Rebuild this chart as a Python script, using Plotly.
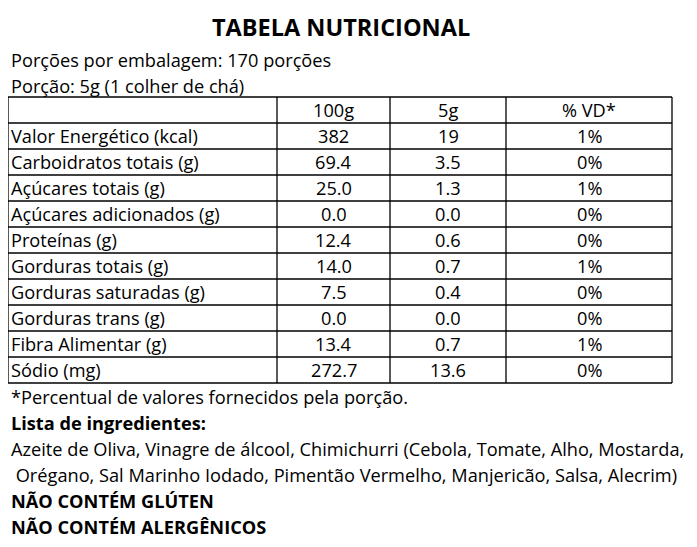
import plotly.graph_objects as go

title = "TABELA NUTRICIONAL"
porcoes = "Porções por embalagem: 170 porções"
porcao = "Porção: 5g (1 colher de chá)"
headers = ["", "100g", "5g", "% VD*"]
nutrients = ["Valor Energético (kcal)", "Carboidratos totais (g)", "Açúcares totais (g)",
             "Açúcares adicionados (g)", "Proteínas (g)", "Gorduras totais (g)",
             "Gorduras saturadas (g)", "Gorduras trans (g)", "Fibra Alimentar (g)", "Sódio (mg)"]
per_100g = ["382", "69.4", "25.0", "0.0", "12.4", "14.0", "7.5", "0.0", "13.4", "272.7"]
per_5g = ["19", "3.5", "1.3", "0.0", "0.6", "0.7", "0.4", "0.0", "0.7", "13.6"]
vd = ["1%", "0%", "1%", "0%", "0%", "1%", "0%", "0%", "1%", "0%"]
footer = [
    ("*Percentual de valores fornecidos pela porção.", False),
    ("Lista de ingredientes:", True),
    ("Azeite de Oliva, Vinagre de álcool, Chimichurri (Cebola, Tomate, Alho, Mostarda,", False),
    (" Orégano, Sal Marinho Iodado, Pimentão Vermelho, Manjericão, Salsa, Alecrim)", False),
    ("NÃO CONTÉM GLÚTEN", True),
    ("NÃO CONTÉM ALERGÊNICOS", True),
]

W, H = 697, 547
OFF = 8  # page body margin
FONT = "Open Sans"
FS = 18.2
col_x = [8, 277, 390, 506, 672]
top, rh = 97, 26
rows = [headers] + [list(r) for r in zip(nutrients, per_100g, per_5g, vd)]

fig = go.Figure()
ann = []
shapes = []

def txt(x, y, s, bold=False, anchor="left", size=FS):
    ann.append(dict(x=x, y=y, xref="x", yref="y", text=f"<b>{s}</b>" if bold else s,
                    showarrow=False, xanchor=anchor, yanchor="middle",
                    font=dict(family=FONT, size=size, color="black")))

txt(W / 2 - 8, 27, title, bold=True, anchor="center", size=23.5)
txt(8.5, 60, porcoes)
txt(8.5, 86, porcao)

for i, r in enumerate(rows):
    yc = top + rh * (i + 0.5)
    txt(col_x[0] + 1, yc, r[0])
    for j in range(1, 4):
        txt((col_x[j] + col_x[j + 1]) / 2, yc, r[j], anchor="center")

line = dict(color="black", width=1.3)
for i in range(len(rows) + 1):
    y = top + rh * i
    shapes.append(dict(type="line", xref="x", yref="y", x0=col_x[0], x1=col_x[-1], y0=y, y1=y, line=line))
for x in col_x:
    shapes.append(dict(type="line", xref="x", yref="y", x0=x, x1=x, y0=top, y1=top + rh * len(rows), line=line))

for k, (s, b) in enumerate(footer):
    txt(8.5, 397 + 26 * k, s, bold=b)

fig.update_layout(width=W, height=H, margin=dict(l=0, r=0, t=0, b=0),
                  paper_bgcolor="white", plot_bgcolor="white",
                  annotations=ann, shapes=shapes, showlegend=False,
                  xaxis=dict(range=[OFF, W + OFF], visible=False, fixedrange=True),
                  yaxis=dict(range=[H + OFF, OFF], visible=False, fixedrange=True))
fig.write_html("out.html", config={"displayModeBar": False})
